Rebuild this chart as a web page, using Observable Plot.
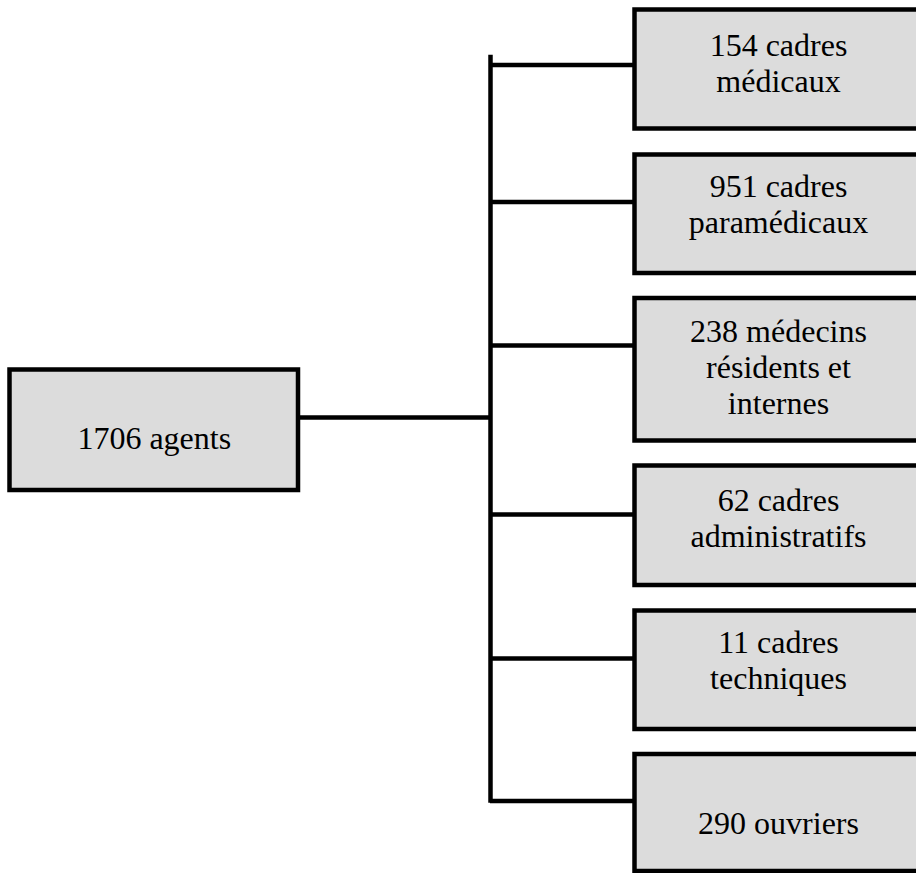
<!DOCTYPE html>
<html>
<head>
<meta charset="utf-8">
<script src="https://cdn.jsdelivr.net/npm/d3@7"></script>
<script src="https://cdn.jsdelivr.net/npm/@observablehq/plot@0.6"></script>
<style>
  html, body { margin: 0; padding: 0; background: #fff; overflow: hidden; }
  #chart { width: 916px; height: 873px; overflow: hidden; }
  #chart svg, #chart svg text { font-family: "Liberation Serif", "Times New Roman", serif !important; }
</style>
</head>
<body>
<div id="chart"></div>
<script>
// ---- data ----
const rootCount = 1706;
const rootName = "agents";
const counts = [154, 951, 238, 62, 11, 290];
const categories = [
  "cadres\nmédicaux",
  "cadres\nparamédicaux",
  "médecins\nrésidents et\ninternes",
  "cadres\nadministratifs",
  "cadres\ntechniques",
  "ouvriers"
];

// ---- layout (diagram geometry, in page units) ----
const W = 916, H = 873;
const rootBox = {x1: 9.5, x2: 298, y1: 369.5, y2: 490, ty: 437.8, cy: 417};
const childX1 = 634.5, childX2 = 940, childTextX = 778;
const trunkX = 490, trunkTop = 57;
const rowTop    = [9.5, 154.5, 298, 465.5, 610.5, 754];
const rowBottom = [128.5, 273, 440.5, 585, 729, 871];
const rowBranch = [64.5, 201.5, 345, 514, 658, 800.5];
const rowText   = [62, 202.8, 365.8, 516.8, 658.8, 821.8];

const children = counts.map((c, i) => ({
  label: `${c} ${categories[i]}`,
  y1: rowTop[i], y2: rowBottom[i], by: rowBranch[i], ty: rowText[i]
}));
const root = [{label: `${rootCount} ${rootName}`, ...rootBox}];

const fill = "#dcdcdc";
const sw = 4.5;
const ff = "Liberation Serif";

const chart = Plot.plot({
  width: W, height: H,
  margin: 0,
  x: {type: "linear", domain: [0, W], range: [0, W], axis: null},
  y: {type: "linear", domain: [0, H], range: [0, H], axis: null},
  style: {background: "#fff"},
  marks: [
    Plot.rect(root, {x1: "x1", x2: "x2", y1: "y1", y2: "y2", fill, stroke: "#000", strokeWidth: sw}),
    Plot.text(root, {x: d => (d.x1 + d.x2) / 2, y: "ty", text: "label", fontSize: 32, fontFamily: ff, fill: "#000"}),
    Plot.ruleY(root, {y: "cy", x1: "x2", x2: () => trunkX, stroke: "#000", strokeWidth: 4.5}),
    Plot.ruleX([trunkX], {x: d => d, y1: () => trunkTop, y2: () => rowBranch[rowBranch.length - 1], stroke: "#000", strokeWidth: 4.5, strokeLinecap: "square"}),
    Plot.ruleY(children, {y: "by", x1: () => trunkX, x2: () => childX1, stroke: "#000", strokeWidth: 4.5}),
    Plot.rect(children, {x1: () => childX1, x2: () => childX2, y1: "y1", y2: "y2", fill, stroke: "#000", strokeWidth: sw}),
    Plot.text(children, {x: () => childTextX, y: "ty", text: "label", fontSize: 32, fontFamily: ff, lineHeight: 1.125, fill: "#000"})
  ]
});
document.getElementById("chart").appendChild(chart);
</script>
</body>
</html>
